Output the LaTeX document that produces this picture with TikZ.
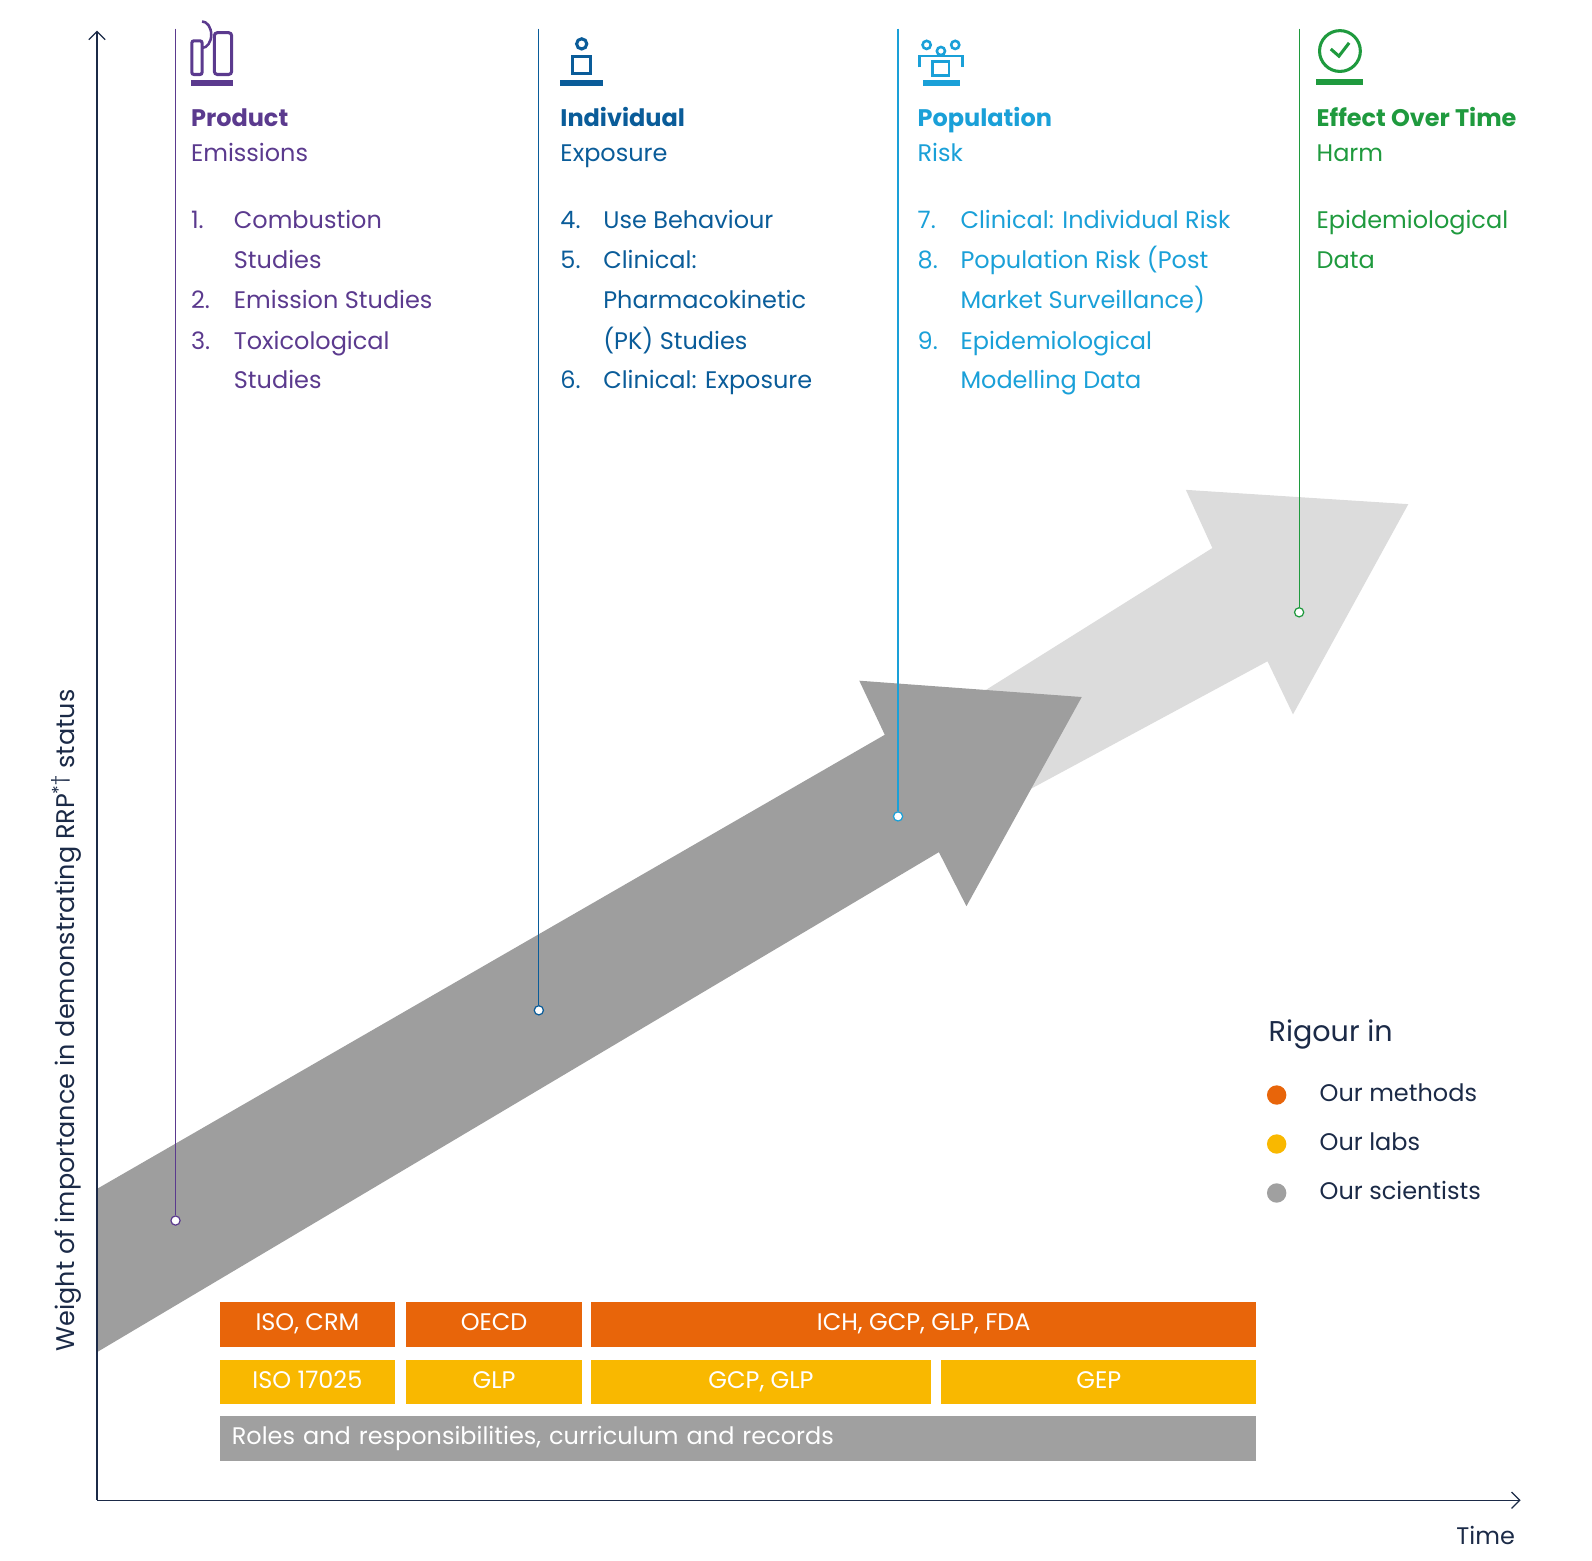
\documentclass[tikz,border=0pt]{standalone}
\usepackage{fontspec}
\setmainfont{Poppins}
\usetikzlibrary{arrows.meta}
\definecolor{cpur}{HTML}{5B3A8E}
\definecolor{cblu}{HTML}{0A5C99}
\definecolor{ccya}{HTML}{1AA0D8}
\definecolor{cgrn}{HTML}{1F9A3E}
\definecolor{corg}{HTML}{E8650A}
\definecolor{cyel}{HTML}{F9B800}
\definecolor{cgry}{HTML}{A0A0A0}
\definecolor{cdark}{HTML}{9E9E9E}
\definecolor{clight}{HTML}{DCDCDC}
\definecolor{cnavy}{HTML}{1B2A47}
\begin{document}
\begin{tikzpicture}[x=1pt,y=-1pt,
  txt/.style={font=\fontsize{23.5}{28}\selectfont,anchor=west,inner sep=0pt,text height=17pt,text depth=5pt},
  bar/.style={anchor=north west,minimum height=44pt,inner sep=0pt,text=white,font=\fontsize{23.5}{28}\selectfont,text height=17pt,text depth=5pt},
  pin/.style={line width=1.2pt},
  dot/.style={circle,inner sep=0pt,minimum size=9pt,draw,line width=1.2pt,fill=white}]
\useasboundingbox (0,0) rectangle (1560,1529);
% arrows
\fill[clight] (880,730) -- (1188,537) -- (1162,480) -- (1380,494) -- (1267,700) -- (1242,648) -- (960,800) -- cycle;
\fill[cdark] (95,1165) -- (867,720) -- (842,667) -- (1060,683) -- (947,888) -- (920,835) -- (95,1325) -- cycle;
% axes
\coordinate (o) at (95,1470); \coordinate (ytop) at (95,30); \coordinate (xend) at (1490,1470);
\draw[cnavy,line width=1.2pt,-{Straight Barb[length=8pt,width=16pt]}] (o) -- (ytop);
\draw[cnavy,line width=1.2pt,-{Straight Barb[length=8pt,width=16pt]}] (o) -- (xend);
\node[font=\fontsize{25}{30}\selectfont,text=cnavy,rotate=90] (ylab) at (65,1000) {Weight of importance in demonstrating RRP\textsuperscript{*†} status};
\node[txt,text=cnavy] (time) at (1427,1507) {Time};
% pins
\node[dot,draw=cpur] (p1) at (172,1196) {}; \coordinate (t1) at (172,28);
\draw[pin,cpur] (t1) -- (p1);
\node[dot,draw=cblu] (p2) at (528,990) {}; \coordinate (t2) at (528,28);
\draw[pin,cblu] (t2) -- (p2);
\node[dot,draw=ccya] (p3) at (880,800) {}; \coordinate (t3) at (880,28);
\draw[pin,ccya] (t3) -- (p3);
\node[dot,draw=cgrn] (p4) at (1273,600) {}; \coordinate (t4) at (1273,28);
\draw[pin,cgrn] (t4) -- (p4);
% icons
\fill[cpur] (187,78) rectangle (228,84);
\draw[cpur,line width=3pt,rounded corners=2pt] (188,40) rectangle (198,73);
\draw[cpur,line width=3pt,rounded corners=3pt] (210,32) rectangle (227,73);
\draw[cpur,line width=2.5pt] (198,47) arc (90:-90:9 and 13);
\fill[cblu] (549,78) rectangle (591,84);
\draw[cblu,line width=3pt] (570,43) circle (5);
\draw[cblu,line width=3pt] (561,55) rectangle (579,72);
\fill[ccya] (904,78) rectangle (941,84);
\foreach \xx/\yy in {908/44,922/50,936/44} \draw[ccya,line width=2.5pt] (\xx,\yy) circle (4);
\draw[ccya,line width=2.5pt] (901,66) -- (901,55) -- (943,55) -- (943,66);
\draw[ccya,line width=2.5pt] (914,60) rectangle (930,74);
\fill[cgrn] (1290,77) rectangle (1336,83);
\draw[cgrn,line width=3pt] (1313,50) circle (20);
\draw[cgrn,line width=3pt] (1304,48) -- (1312,55) -- (1322,42);
% headings
\tikzset{hb/.style={font=\bfseries\fontsize{23.5}{28}\selectfont}}
\node[txt,text=cpur,hb] (h1) at (187,118) {Product};
\node[txt,text=cpur] (s1) at (187,152) {Emissions};
\node[txt,text=cblu,hb] (h2) at (549,118) {Individual};
\node[txt,text=cblu] (s2) at (549,152) {Exposure};
\node[txt,text=ccya,hb] (h3) at (899,118) {Population};
\node[txt,text=ccya] (s3) at (899,152) {Risk};
\node[txt,text=cgrn,hb] (h4) at (1290,118) {Effect Over Time};
\node[txt,text=cgrn] (s4) at (1290,152) {Harm};
% lists
\foreach \n/\t/\yy in {1./Combustion/218,/Studies/257,2./Emission Studies/296,3./Toxicological/336,/Studies/375}{
  \node[txt,text=cpur] at (187,\yy) {\n}; \node[txt,text=cpur] at (229,\yy) {\t};}
\foreach \n/\t/\yy in {4./Use Behaviour/218,5./Clinical:/257,/Pharmacokinetic/296,/(PK) Studies/336,6./Clinical: Exposure/375}{
  \node[txt,text=cblu] at (549,\yy) {\n}; \node[txt,text=cblu] at (591,\yy) {\t};}
\foreach \n/\t/\yy in {7./Clinical: Individual Risk/218,8./Population Risk (Post/257,/Market Surveillance)/296,9./Epidemiological/336,/Modelling Data/375}{
  \node[txt,text=ccya] at (899,\yy) {\n}; \node[txt,text=ccya] at (941,\yy) {\t};}
\node[txt,text=cgrn] (e1) at (1290,218) {Epidemiological};
\node[txt,text=cgrn] (e2) at (1290,257) {Data};
% legend
\node[txt,text=cnavy,font=\fontsize{28}{33}\selectfont] (rig) at (1243,1015) {Rigour in};
\fill[corg] (1251,1073) circle (9.5); \node[txt,text=cnavy] (l1) at (1293,1073) {Our methods};
\fill[cyel] (1251,1121) circle (9.5); \node[txt,text=cnavy] (l2) at (1293,1121) {Our labs};
\fill[cgry] (1251,1169) circle (9.5); \node[txt,text=cnavy] (l3) at (1293,1169) {Our scientists};
% bars
\node[bar,fill=corg,minimum width=172pt] (b1) at (215,1276) {ISO, CRM};
\node[bar,fill=corg,minimum width=172pt] (b2) at (398,1276) {OECD};
\node[bar,fill=corg,minimum width=652pt] (b3) at (579,1276) {ICH, GCP, GLP, FDA};
\node[bar,fill=cyel,minimum width=172pt] (b4) at (215,1332) {ISO 17025};
\node[bar,fill=cyel,minimum width=172pt] (b5) at (398,1332) {GLP};
\node[bar,fill=cyel,minimum width=333pt] (b6) at (579,1332) {GCP, GLP};
\node[bar,fill=cyel,minimum width=309pt] (b7) at (922,1332) {GEP};
\node[bar,fill=cgry,minimum width=1016pt,text width=992pt,align=left] (b8) at (215,1387) {Roles and responsibilities, curriculum and records};
\end{tikzpicture}
\end{document}
